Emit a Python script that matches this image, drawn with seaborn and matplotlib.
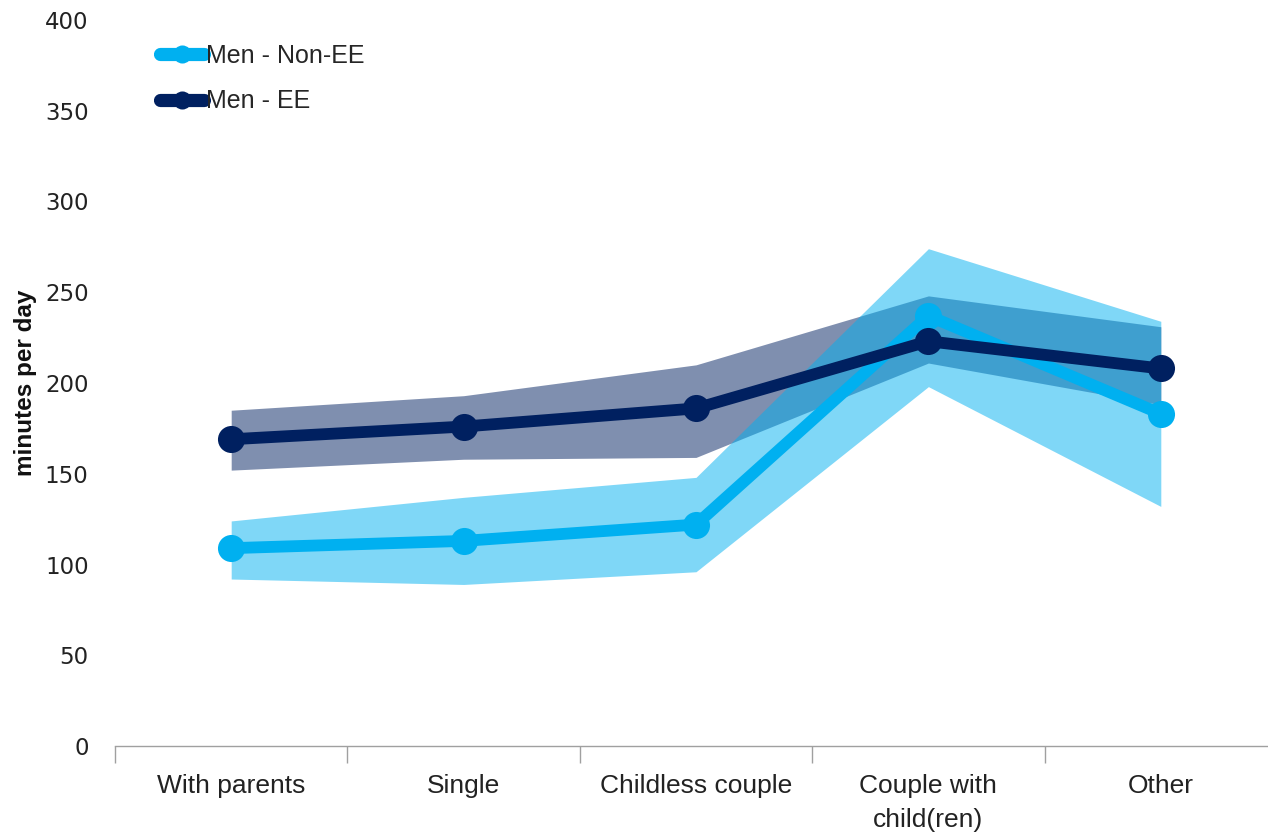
import matplotlib
matplotlib.use("Agg")
import matplotlib.pyplot as plt
from matplotlib.lines import Line2D
import numpy as np
import pandas as pd
import seaborn as sns

# Household types on the x axis
categories = ["With parents", "Single", "Childless couple", "Couple with\nchild(ren)", "Other"]

# Mean minutes per day and confidence band, men without EE
non_ee_mean = [109, 113, 122, 237, 183]
non_ee_low = [92, 89, 96, 198, 132]
non_ee_high = [124, 137, 148, 274, 234]

# Mean minutes per day and confidence band, men with EE
ee_mean = [169, 176, 186, 223, 208]
ee_low = [152, 158, 159, 211, 188]
ee_high = [185, 193, 210, 248, 231]

series_names = ["Men - Non-EE", "Men - EE"]
light_blue = "#00b0f0"
navy = "#002060"

sns.set_theme(style="white")
plt.rcParams["font.family"] = ["Liberation Sans Narrow", "Liberation Sans", "DejaVu Sans"]

df = pd.DataFrame({
    "category": categories * 2,
    "x": list(range(len(categories))) * 2,
    "minutes": non_ee_mean + ee_mean,
    "series": [series_names[0]] * len(categories) + [series_names[1]] * len(categories),
})

fig = plt.figure(figsize=(12.68, 8.35), dpi=100)
ax = fig.add_axes([115 / 1268, 1 - 746 / 835, (1277 - 115) / 1268, (746 - 20) / 835])

xs = np.arange(len(categories))
# bands: EE underneath, non-EE on top so the overlap blends
ax.fill_between(xs, ee_low, ee_high, color=navy, alpha=0.5, linewidth=0, zorder=1)
ax.fill_between(xs, non_ee_low, non_ee_high, color=light_blue, alpha=0.5, linewidth=0, zorder=2)

sns.lineplot(data=df, x="x", y="minutes", hue="series",
             palette={series_names[0]: light_blue, series_names[1]: navy},
             hue_order=series_names, marker="o", markersize=19.5, markeredgewidth=0,
             linewidth=8.5, ax=ax, legend=False, zorder=3)
# keep the EE line above the non-EE line
for ln, z in zip(ax.lines, [3, 4]):
    ln.set_zorder(z)

ax.set_xlim(-0.5, len(categories) - 0.5)
ax.set_ylim(0, 400)
ax.set_yticks(np.arange(0, 401, 50))
ax.set_yticklabels([str(v) for v in range(0, 401, 50)], fontsize=16.5,
                   family="DejaVu Sans", color="#222222")
ax.set_xticks(xs)
ax.set_xticklabels(categories, fontsize=19, color="#222222", linespacing=1.55)
ax.set_xticks(np.arange(-0.5, len(categories), 1.0), minor=True)
ax.tick_params(axis="x", which="major", length=0, pad=20)
ax.tick_params(axis="x", which="minor", length=12, width=1, color="#a0a0a0", direction="out", bottom=True)
ax.tick_params(axis="y", length=0, pad=19)

ax.set_xlabel("")
ax.set_ylabel("minutes per day", fontsize=17.5, fontweight="bold", color="#111111", labelpad=6)

for side in ["top", "right", "left"]:
    ax.spines[side].set_visible(False)
ax.spines["bottom"].set_color("#a0a0a0")
ax.spines["bottom"].set_linewidth(1)
ax.grid(False)

handles = [
    Line2D([0], [0], color=light_blue, linewidth=9.5, marker="o", markersize=13, markeredgewidth=0),
    Line2D([0], [0], color=navy, linewidth=9.5, marker="o", markersize=13, markeredgewidth=0),
]
fig.legend(handles, series_names, loc="upper left", bbox_to_anchor=(160 / 1268, 1 - 44 / 835),
           frameon=False, fontsize=18, handlelength=1.75, handletextpad=0.1,
           labelspacing=0.85, borderaxespad=0, borderpad=0)

fig.savefig("out.png", dpi=100)
